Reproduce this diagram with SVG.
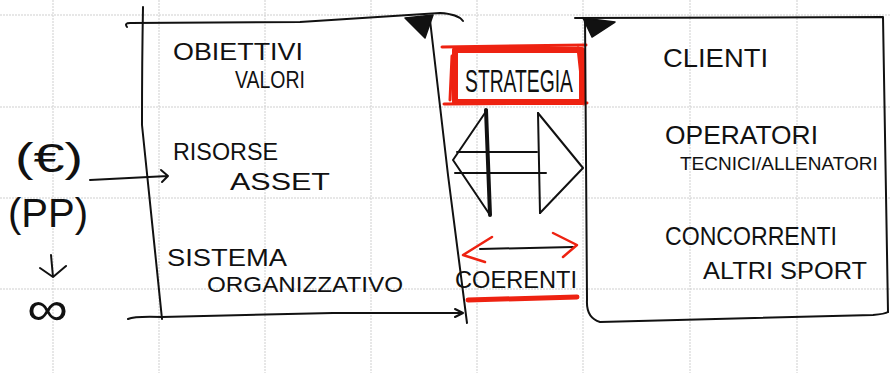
<svg xmlns="http://www.w3.org/2000/svg" width="891" height="373" viewBox="0 0 891 373">
<defs>
<style>
.grid{stroke:#cfcfcf;stroke-width:1;stroke-dasharray:2 1;fill:none}
.ink{stroke:#111;stroke-width:2;fill:none;stroke-linecap:round;stroke-linejoin:round}
.thick{stroke:#111;stroke-width:4;fill:none;stroke-linecap:round}
.red{stroke:#ee2211;fill:none;stroke-linecap:round;stroke-linejoin:round}
.t{font-family:"Liberation Sans","DejaVu Sans",sans-serif;fill:#111}
.tri{fill:#111;stroke:#111;stroke-width:1.5;stroke-linejoin:round}
</style>
</defs>
<rect width="891" height="373" fill="#fff"/>
<g id="grid" class="grid">
<line x1="53" y1="0" x2="53" y2="373"/><line x1="159" y1="0" x2="159" y2="373"/><line x1="265" y1="0" x2="265" y2="373"/><line x1="371" y1="0" x2="371" y2="373"/><line x1="477" y1="0" x2="477" y2="373"/><line x1="583" y1="0" x2="583" y2="373"/><line x1="690" y1="0" x2="690" y2="373"/><line x1="797" y1="0" x2="797" y2="373"/>
<line x1="0" y1="15" x2="891" y2="15"/><line x1="0" y1="107" x2="891" y2="107"/><line x1="0" y1="198" x2="891" y2="198"/><line x1="0" y1="289" x2="891" y2="289"/>
</g>
<g id="left-box">
<path class="ink" d="M143,7 Q142,60 142,125 L162,319"/>
<path class="ink" d="M127,27 Q124,23 130,23 L300,22 Q380,17 440,13 Q458,14 463,21"/>
<path class="ink" d="M430,20 L448,175 L467,323"/>
<path class="ink" d="M128,319 Q135,316 162,317 L333,313 L462,313"/>
<path class="ink" d="M455,309 L463,313 L455,317"/>
<polygon class="tri" points="405,18 433,15 425,38"/>
<text class="t" x="173" y="60" font-size="24" textLength="130" lengthAdjust="spacingAndGlyphs">OBIETTIVI</text>
<text class="t" x="235" y="88" font-size="24" textLength="70" lengthAdjust="spacingAndGlyphs">VALORI</text>
<text class="t" x="173" y="160" font-size="24" textLength="105" lengthAdjust="spacingAndGlyphs">RISORSE</text>
<text class="t" x="230" y="190" font-size="24" textLength="100" lengthAdjust="spacingAndGlyphs">ASSET</text>
<text class="t" x="167" y="266" font-size="24" textLength="120" lengthAdjust="spacingAndGlyphs">SISTEMA</text>
<text class="t" x="207" y="292" font-size="22" textLength="196" lengthAdjust="spacingAndGlyphs">ORGANIZZATIVO</text>
</g>
<g id="strategia">
<rect class="red" x="455" y="50" width="127" height="52" stroke-width="6"/>
<path class="red" stroke-width="3" d="M442,47 L586,45 M444,104 L587,103 M452,56 L450,100 M578,48 L584,104"/>
<text class="t" x="465" y="92" font-size="32" textLength="108" lengthAdjust="spacingAndGlyphs">STRATEGIA</text>
</g>
<g id="coerenti">
<text class="t" x="455" y="288" font-size="24" textLength="122" lengthAdjust="spacingAndGlyphs">COERENTI</text>
<path class="red" stroke-width="5" d="M468,300 L577,297"/>
</g>
<g id="right-box">
<path class="ink" d="M575,18 L883,17 L888,312"/>
<path class="ink" d="M585,18 L587,300 Q586,318 600,322 L873,315 Q885,314 888,312"/>
<polygon class="tri" points="583,18 615,22 592,37"/>
<text class="t" x="663" y="67" font-size="26" textLength="105" lengthAdjust="spacingAndGlyphs">CLIENTI</text>
<text class="t" x="665" y="144" font-size="26" textLength="153" lengthAdjust="spacingAndGlyphs">OPERATORI</text>
<text class="t" x="680" y="170" font-size="19">TECNICI/ALLENATORI</text>
<text class="t" x="665" y="245" font-size="26" textLength="172" lengthAdjust="spacingAndGlyphs">CONCORRENTI</text>
<text class="t" x="703" y="279" font-size="24" textLength="164" lengthAdjust="spacingAndGlyphs">ALTRI SPORT</text>
</g>
<g id="inputs">
<text class="t" x="15" y="172" font-size="40" textLength="68" lengthAdjust="spacingAndGlyphs">(€)</text>
<text class="t" x="8" y="227" font-size="40" textLength="80" lengthAdjust="spacingAndGlyphs">(PP)</text>
<text class="t" x="27" y="325" font-size="48" textLength="41" lengthAdjust="spacingAndGlyphs">∞</text>
</g>
<g id="connectors">
<path class="ink" d="M90,180 L168,176 M161,170 L168,176 L162,182"/>
<path class="ink" d="M51,255 L53,277 M40,268 L53,277 L66,266"/>
<path class="ink" d="M487,110 L453,160 L490,215 M538,113 L583,168 L540,213 M457,152 L537,152 M455,173 L546,173"/>
<path class="thick" d="M486,110 L490,215"/>
<path class="ink" d="M538,113 L540,213"/>
<path class="ink" d="M480,249 L573,247"/>
<path class="red" stroke-width="2.5" d="M492,237 L463,255 L485,262 M553,233 L577,245 L563,257"/>
</g>
</svg>
